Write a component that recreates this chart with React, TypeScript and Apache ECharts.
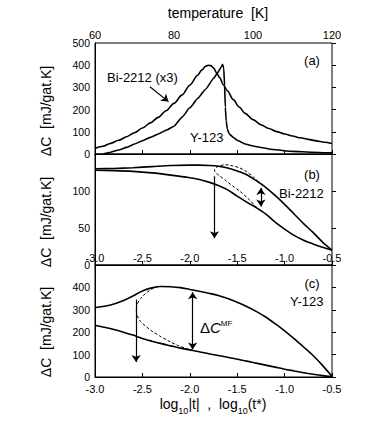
import React, { useEffect, useRef } from "react";
import * as echarts from "echarts";

// ---------- Panel (a): temperature dependence ----------
const tempTicks = [60, 80, 100, 120];
const tempBi = [60, 62, 64, 66, 68, 70, 72, 74, 76, 78, 80, 82, 84, 86, 87, 88, 88.7, 89.3, 90, 90.8, 91.5, 92.5, 93.5, 95, 96.5, 98, 100, 102, 104, 106, 108, 110, 112, 114, 116, 118, 120];
const cBi = [25, 35, 48, 62, 78, 96, 117, 140, 165, 195, 228, 265, 310, 355, 378, 395, 400, 398, 388, 365, 345, 312, 285, 245, 212, 183, 155, 132, 115, 101, 90, 81, 73, 66, 59, 53, 47];
const tempY = [62, 64, 66, 68, 70, 72, 74, 76, 78, 80, 82, 84, 86, 88, 90, 91, 92, 92.3, 92.6, 92.8, 93.0, 93.2, 93.5, 94, 95, 96, 98, 100, 102, 105, 110, 115, 120];
const cY = [0, 8, 18, 30, 45, 60, 75, 90, 107, 125, 165, 208, 250, 292, 340, 365, 393, 404, 385, 310, 210, 150, 112, 90, 75, 62, 45, 36, 29, 20, 12, 8, 5];
const arrowA = [[73.9, 303], [78.6, 236]];

// ---------- Panel (b): Bi-2212 vs log10 t ----------
const logB = [-3.0, -2.8, -2.6, -2.4, -2.2, -2.0, -1.9, -1.8, -1.7, -1.6, -1.5, -1.4, -1.3, -1.2, -1.1, -1.0, -0.9, -0.8, -0.7, -0.6, -0.5];
const bUpper = [130, 130.5, 131.5, 133, 134.5, 135, 135, 134.5, 133.5, 131, 127, 122, 114, 105, 94, 82, 69, 56, 44, 31, 20];
const bLower = [128, 127.5, 126.5, 124.5, 121.5, 118, 115.5, 112, 107.5, 101.5, 93, 85, 77.5, 69, 58, 48.5, 40, 33.5, 28.5, 24, 20];
const dashBX = [-1.25, -1.30, -1.37, -1.47, -1.55, -1.62, -1.68, -1.72, -1.74, -1.725, -1.69, -1.62, -1.55, -1.47, -1.40, -1.33, -1.27, -1.22];
const dashBY = [73.5, 78.5, 88, 99.5, 107, 114, 120, 124, 128, 131.5, 134, 135.5, 134, 131, 126, 119, 112, 106.5];
const arrowBDown = [[-1.74, 120], [-1.74, 36]];
const arrowBDouble = [[-1.25, 104], [-1.25, 79]];

// ---------- Panel (c): Y-123 vs log10 t ----------
const logC = [-3.0, -2.9, -2.8, -2.7, -2.6, -2.5, -2.4, -2.3, -2.2, -2.1, -2.0, -1.9, -1.8, -1.7, -1.6, -1.5, -1.4, -1.3, -1.2, -1.1, -1.0, -0.9, -0.8, -0.7, -0.6, -0.5];
const cUpper = [310, 316, 326, 342, 362, 384, 398, 404, 403, 399, 391, 383, 374, 364, 350, 334, 315, 293, 268, 238, 206, 171, 134, 96, 52, 3];
const cLower = [231, 222, 212, 200, 187, 172, 160, 149, 139, 129, 121, 113, 104, 96, 88, 79, 71, 62, 53, 44, 35, 27, 19, 12, 6, 2];
const dashCX = [-2.33, -2.40, -2.46, -2.52, -2.555, -2.565, -2.555, -2.52, -2.46, -2.40, -2.32, -2.22, -2.12, -2.02, -1.95];
const dashCY = [404, 393, 375, 350, 325, 300, 275, 248, 225, 205, 184, 160, 140, 125, 117];
const arrowCDown = [[-2.567, 346], [-2.567, 67]];
const arrowCDouble = [[-1.97, 378], [-1.97, 123]];

const FONT = "'Liberation Sans', Arial, Helvetica, sans-serif";
const BLACK = "#000";

const zip = (xs: number[], ys: number[]) => xs.map((x, i) => [x, ys[i]]);

export default function App() {
  const ref = useRef<HTMLDivElement>(null);

  useEffect(() => {
    if (!ref.current) return;
    const chart = echarts.init(ref.current, undefined, { renderer: "svg" });

    const line = { color: BLACK, width: 1 };
    const gridBase = { left: 95, width: 237, show: true, borderColor: BLACK, borderWidth: 1, backgroundColor: "transparent" };
    const fmt1 = (v: number) => v.toFixed(1);

    const logAxis = (gridIndex: number, labelShow: boolean, inside: boolean, margin: number) => ({
      gridIndex, type: "value", position: "bottom", min: -3, max: -0.5, interval: 0.5,
      axisLine: { show: true, lineStyle: line },
      axisTick: { show: true, inside: true, length: 4, lineStyle: line },
      axisLabel: { show: labelShow, inside, margin, formatter: fmt1, fontSize: 11, color: BLACK, fontFamily: FONT },
      splitLine: { show: false },
    });

    const leftY = (gridIndex: number, max: number, interval: number, hideMax: boolean) => ({
      gridIndex, type: "value", position: "left", min: 0, max, interval,
      axisLine: { show: true, lineStyle: line },
      axisTick: { show: false },
      axisLabel: {
        show: true, margin: 5, fontSize: 10.5, color: BLACK, fontFamily: FONT,
        formatter: (v: number) => (hideMax && v === max ? "" : String(v)),
      },
      splitLine: { show: false },
    });
    const rightY = (gridIndex: number, max: number, interval: number) => ({
      gridIndex, type: "value", position: "right", min: 0, max, interval,
      axisLine: { show: false },
      axisTick: { show: true, inside: false, length: 4, lineStyle: line },
      axisLabel: { show: false },
      splitLine: { show: false },
    });

    const curve = (x: number, y: number, data: number[][], extra: any = {}) => ({
      type: "line", xAxisIndex: x, yAxisIndex: y, data, showSymbol: false, symbol: "none",
      smooth: 0.3, lineStyle: { color: BLACK, width: 1.6 }, silent: true, ...extra,
    });
    const arrow = (x: number, y: number, coords: number[][], both: boolean) => ({
      type: "lines", coordinateSystem: "cartesian2d", xAxisIndex: x, yAxisIndex: y,
      symbol: [both ? "arrow" : "none", "arrow"], symbolSize: 7, silent: true,
      lineStyle: { color: BLACK, width: 1.2, opacity: 1 },
      data: [{ coords }],
    });
    const text = (x: number, y: number, t: string, align = "left", size = 13, extra: any = {}) => ({
      type: "text", x, y, silent: true,
      style: { text: t, fill: BLACK, fontSize: size, fontFamily: FONT, align, verticalAlign: "middle", ...extra },
    });
    const yName = (y: number) => ({
      type: "text", x: 46, y, rotation: Math.PI / 2, silent: true,
      style: { text: "ΔC  [mJ/gat.K]", fill: BLACK, fontSize: 14, fontFamily: FONT, align: "center", verticalAlign: "middle" },
    });

    const option: any = {
      animation: false,
      backgroundColor: "#fff",
      grid: [
        { ...gridBase, top: 43, height: 111 },
        { ...gridBase, top: 154, height: 111 },
        { ...gridBase, top: 265, height: 112 },
      ],
      xAxis: [
        logAxis(0, false, false, 0),
        {
          gridIndex: 0, type: "value", position: "top", min: tempTicks[0], max: tempTicks[tempTicks.length - 1], interval: 20,
          axisLine: { show: true, lineStyle: line },
          axisTick: { show: false },
          axisLabel: { show: true, margin: 3, fontSize: 11, color: BLACK, fontFamily: FONT },
          splitLine: { show: false },
        },
        logAxis(1, true, true, 2),
        logAxis(2, true, false, 6),
      ],
      yAxis: [
        leftY(0, 500, 100, false),
        rightY(0, 500, 100),
        leftY(1, 150, 50, true),
        rightY(1, 150, 50),
        leftY(2, 500, 100, true),
        rightY(2, 500, 100),
      ],
      series: [
        curve(1, 0, zip(tempBi, cBi), { smoothMonotone: "x" }),
        curve(1, 0, zip(tempY, cY), { smooth: 0.15, smoothMonotone: "x" }),
        curve(2, 2, zip(logB, bUpper)),
        curve(2, 2, zip(logB, bLower)),
        curve(2, 2, zip(dashBX, dashBY), { lineStyle: { color: BLACK, width: 1, type: [3, 2] } }),
        curve(3, 4, zip(logC, cUpper)),
        curve(3, 4, zip(logC, cLower)),
        curve(3, 4, zip(dashCX, dashCY), { lineStyle: { color: BLACK, width: 1, type: [3, 2] } }),
        arrow(1, 0, arrowA, false),
        arrow(2, 2, arrowBDown, false),
        arrow(2, 2, arrowBDouble, true),
        arrow(3, 4, arrowCDown, false),
        arrow(3, 4, arrowCDouble, true),
      ],
      graphic: [
        text(218, 13, "temperature  [K]", "center", 14),
        yName(111),
        yName(222),
        yName(332),
        {
          type: "text", x: 213, y: 405, silent: true,
          style: {
            text: "{n|log}{s|10}{n||t|  ,  log}{s|10}{n|(t*)}",
            align: "center", verticalAlign: "middle", fill: BLACK,
            rich: {
              n: { fontSize: 14, fontFamily: FONT, fill: BLACK, verticalAlign: "top", lineHeight: 16 },
              s: { fontSize: 9, fontFamily: FONT, fill: BLACK, verticalAlign: "top", lineHeight: 10, padding: [9, 0, 0, 0] },
            },
          },
        },
        text(312, 60, "(a)", "center"),
        text(107, 77, "Bi-2212 (x3)"),
        text(190, 137, "Y-123"),
        text(312, 174, "(b)", "center"),
        text(279, 193, "Bi-2212"),
        text(312, 283, "(c)", "center"),
        text(290, 301, "Y-123"),
        {
          type: "text", x: 200, y: 328, silent: true,
          style: {
            text: "{d|Δ}{i|C}{p|MF}",
            align: "left", verticalAlign: "middle", fill: BLACK,
            rich: {
              d: { fontSize: 15, fontFamily: FONT, fill: BLACK, verticalAlign: "top", lineHeight: 17 },
              i: { fontSize: 15, fontFamily: FONT, fontStyle: "italic", fill: BLACK, verticalAlign: "top", lineHeight: 17 },
              p: { fontSize: 8, fontFamily: FONT, fill: BLACK, verticalAlign: "top", lineHeight: 9 },
            },
          },
        },
      ],
    };

    chart.setOption(option);
    return () => chart.dispose();
  }, []);

  return (
    <div
      ref={ref}
      style={{ position: "fixed", left: 0, top: 0, width: 382, height: 436, background: "#fff" }}
    />
  );
}
